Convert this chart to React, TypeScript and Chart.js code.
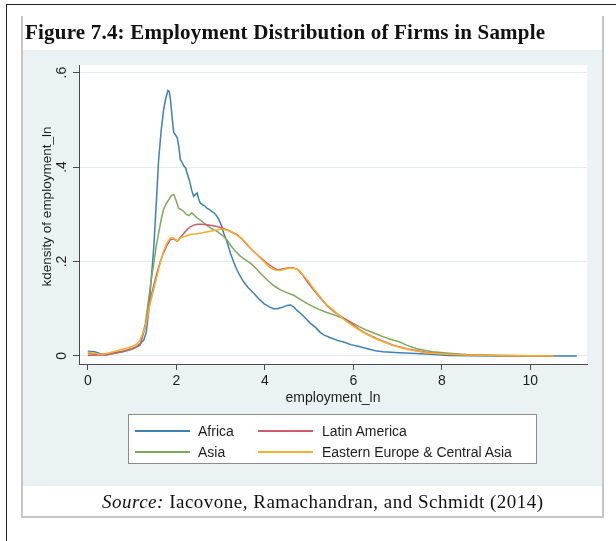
import React, { useEffect, useRef } from 'react';
import { Chart, registerables } from 'chart.js';
Chart.register(...registerables);

const titleText = 'Figure 7.4: Employment Distribution of Firms in Sample';
const xTitle = 'employment_ln';
const yTitle = 'kdensity of employment_ln';
const xTicks = [0, 2, 4, 6, 8, 10];
const yTicks = [0, 0.2, 0.4, 0.6];
const yTickLabels = ['0', '.2', '.4', '.6'];

const africaX = [0, 0.15, 0.3, 0.45, 0.6, 0.75, 0.9, 1.05, 1.18, 1.26, 1.32, 1.37, 1.43, 1.49, 1.55, 1.6, 1.66, 1.71, 1.76, 1.81, 1.84, 1.87, 1.91, 1.94, 1.98, 2.02, 2.06, 2.09, 2.13, 2.17, 2.21, 2.24, 2.3, 2.35, 2.39, 2.43, 2.47, 2.5, 2.54, 2.6, 2.65, 2.69, 2.75, 2.8, 2.85, 2.9, 2.96, 3.02, 3.07, 3.15, 3.22, 3.3, 3.37, 3.45, 3.52, 3.62, 3.75, 3.86, 3.98, 4.1, 4.2, 4.28, 4.4, 4.5, 4.58, 4.65, 4.72, 4.81, 4.92, 5.03, 5.15, 5.25, 5.34, 5.5, 5.64, 5.8, 5.94, 6.13, 6.3, 6.5, 6.67, 7.04, 7.4, 7.64, 8.17, 8.6, 9.2, 10, 11.05];
const africaY = [0.010, 0.009, 0.004, 0.004, 0.007, 0.009, 0.012, 0.016, 0.026, 0.033, 0.05, 0.09, 0.16, 0.23, 0.33, 0.416, 0.48, 0.52, 0.545, 0.562, 0.56, 0.54, 0.5, 0.473, 0.468, 0.462, 0.44, 0.416, 0.41, 0.402, 0.398, 0.388, 0.37, 0.35, 0.338, 0.342, 0.345, 0.334, 0.324, 0.32, 0.317, 0.313, 0.31, 0.306, 0.303, 0.298, 0.289, 0.276, 0.26, 0.24, 0.218, 0.198, 0.182, 0.168, 0.157, 0.145, 0.133, 0.121, 0.111, 0.104, 0.1, 0.1, 0.103, 0.107, 0.108, 0.104, 0.097, 0.09, 0.08, 0.069, 0.06, 0.05, 0.044, 0.038, 0.033, 0.029, 0.024, 0.02, 0.016, 0.011, 0.009, 0.007, 0.005, 0.004, 0.001, 0.0005, 0.0002, 0, 0];

const asiaX = [0, 0.2, 0.4, 0.6, 0.8, 1.0, 1.18, 1.3, 1.37, 1.43, 1.49, 1.55, 1.6, 1.66, 1.71, 1.77, 1.83, 1.89, 1.94, 1.99, 2.05, 2.11, 2.17, 2.22, 2.28, 2.35, 2.41, 2.47, 2.55, 2.62, 2.7, 2.77, 2.85, 2.92, 3.0, 3.07, 3.15, 3.22, 3.33, 3.45, 3.57, 3.68, 3.8, 3.9, 4.02, 4.13, 4.25, 4.35, 4.5, 4.66, 4.8, 4.96, 5.1, 5.26, 5.4, 5.56, 5.7, 5.86, 6.0, 6.13, 6.29, 6.5, 6.67, 6.85, 7.04, 7.2, 7.42, 7.6, 7.79, 8.17, 8.55, 9.3, 10.0, 10.5];
const asiaY = [0.005, 0.003, 0.002, 0.005, 0.009, 0.014, 0.023, 0.069, 0.118, 0.16, 0.196, 0.235, 0.26, 0.29, 0.31, 0.322, 0.331, 0.34, 0.342, 0.33, 0.313, 0.31, 0.306, 0.3, 0.297, 0.303, 0.298, 0.292, 0.287, 0.282, 0.276, 0.271, 0.267, 0.264, 0.258, 0.253, 0.245, 0.235, 0.222, 0.211, 0.203, 0.196, 0.185, 0.175, 0.164, 0.154, 0.146, 0.14, 0.134, 0.128, 0.12, 0.111, 0.104, 0.097, 0.092, 0.087, 0.082, 0.076, 0.069, 0.062, 0.055, 0.047, 0.041, 0.035, 0.03, 0.023, 0.016, 0.012, 0.009, 0.006, 0.003, 0.001, 0.0003, 0];

const latinX = [0, 0.2, 0.4, 0.6, 0.8, 1.0, 1.18, 1.3, 1.41, 1.49, 1.56, 1.63, 1.71, 1.78, 1.86, 1.94, 2.02, 2.1, 2.17, 2.25, 2.32, 2.4, 2.47, 2.58, 2.69, 2.8, 2.92, 3.03, 3.15, 3.26, 3.37, 3.48, 3.6, 3.72, 3.83, 3.94, 4.05, 4.16, 4.28, 4.4, 4.51, 4.62, 4.73, 4.85, 4.96, 5.1, 5.26, 5.4, 5.56, 5.7, 5.86, 6.0, 6.14, 6.3, 6.52, 6.7, 6.9, 7.1, 7.27, 7.45, 7.64, 8.02, 8.55, 9.2, 10.0, 10.5];
const latinY = [0.001, 0.002, 0.002, 0.006, 0.01, 0.016, 0.023, 0.062, 0.118, 0.15, 0.175, 0.198, 0.218, 0.233, 0.246, 0.248, 0.243, 0.252, 0.26, 0.268, 0.274, 0.277, 0.279, 0.279, 0.278, 0.276, 0.274, 0.271, 0.267, 0.262, 0.257, 0.248, 0.235, 0.224, 0.214, 0.205, 0.196, 0.189, 0.182, 0.184, 0.186, 0.187, 0.184, 0.172, 0.157, 0.14, 0.122, 0.107, 0.094, 0.085, 0.076, 0.066, 0.056, 0.047, 0.037, 0.03, 0.023, 0.018, 0.014, 0.011, 0.008, 0.004, 0.002, 0.001, 0.0003, 0];

const eecaX = [0, 0.15, 0.3, 0.5, 0.7, 0.85, 1.0, 1.1, 1.18, 1.3, 1.41, 1.49, 1.56, 1.63, 1.71, 1.78, 1.86, 1.94, 2.02, 2.1, 2.17, 2.25, 2.32, 2.43, 2.54, 2.65, 2.77, 2.88, 3.0, 3.1, 3.22, 3.33, 3.45, 3.57, 3.68, 3.8, 3.9, 4.02, 4.13, 4.24, 4.35, 4.47, 4.58, 4.68, 4.77, 4.86, 4.96, 5.1, 5.26, 5.4, 5.56, 5.7, 5.86, 6.0, 6.13, 6.3, 6.52, 6.7, 6.9, 7.1, 7.27, 7.45, 7.64, 8.02, 8.55, 9.2, 10.0, 10.53];
const eecaY = [0.008, 0.006, 0.003, 0.007, 0.012, 0.016, 0.02, 0.025, 0.033, 0.062, 0.111, 0.142, 0.168, 0.195, 0.221, 0.238, 0.25, 0.25, 0.243, 0.25, 0.253, 0.255, 0.257, 0.258, 0.26, 0.262, 0.264, 0.266, 0.269, 0.267, 0.264, 0.258, 0.25, 0.24, 0.228, 0.217, 0.207, 0.196, 0.186, 0.182, 0.181, 0.184, 0.186, 0.185, 0.182, 0.172, 0.161, 0.143, 0.124, 0.108, 0.096, 0.084, 0.072, 0.063, 0.055, 0.046, 0.036, 0.029, 0.022, 0.017, 0.013, 0.01, 0.007, 0.004, 0.002, 0.001, 0.0003, 0];

const seriesNames = ['Africa', 'Asia', 'Latin America', 'Eastern Europe & Central Asia'];
const seriesX = [africaX, asiaX, latinX, eecaX];
const seriesY = [africaY, asiaY, latinY, eecaY];
const seriesColors = ['#3f80b5', '#80a85a', '#cf5b70', '#f5b12c'];
// lower = drawn on top
const seriesOrder = [3, 2, 1, 0];
// legend layout order (row-major, 2 columns): Africa, Latin America / Asia, EECA
const legendOrder = [0, 2, 1, 3];

const SANS = '"Liberation Sans", Arial, Helvetica, sans-serif';
const SERIF = '"Liberation Serif", "Times New Roman", serif';
const PANEL = '#eaf2f3';
const AXIS = '#4a4a4a';

export default function App() {
  const ref = useRef<HTMLCanvasElement | null>(null);

  useEffect(() => {
    if (!ref.current) return;
    const plugin = {
      id: 'stataFrame',
      beforeDraw(chart: any) {
        const { ctx, chartArea: a } = chart;
        ctx.save();
        ctx.fillStyle = '#ffffff';
        ctx.fillRect(a.left, a.top, a.right - a.left, a.bottom - a.top);
        ctx.restore();
      },
      afterDraw(chart: any) {
        const { ctx, chartArea: a } = chart;
        const ys = chart.scales.y;
        ctx.save();
        ctx.fillStyle = '#1e1e1e';
        ctx.font = `14px ${SANS}`;
        ctx.textAlign = 'center';
        ctx.textBaseline = 'middle';
        yTicks.forEach((v, i) => {
          const py = ys.getPixelForValue(v);
          ctx.save();
          ctx.translate(a.left - 17, py);
          ctx.rotate(-Math.PI / 2);
          ctx.fillText(yTickLabels[i], 0, 0);
          ctx.restore();
        });
        ctx.font = `13.5px ${SANS}`;
        ctx.save();
        ctx.translate(a.left - 32, (a.top + a.bottom) / 2 - 8);
        ctx.rotate(-Math.PI / 2);
        ctx.fillText(yTitle, 0, 0);
        ctx.restore();
        ctx.restore();
      },
    };

    const chart = new Chart(ref.current, {
      type: 'line',
      data: {
        datasets: seriesNames.map((name, i) => ({
          label: name,
          data: seriesX[i].map((x, j) => ({ x, y: seriesY[i][j] })),
          borderColor: seriesColors[i],
          backgroundColor: seriesColors[i],
          borderWidth: 1.5,
          pointRadius: 0,
          tension: 0,
          fill: false,
          order: seriesOrder[i],
        })),
      },
      options: {
        animation: false,
        responsive: false,
        maintainAspectRatio: false,
        layout: { padding: { left: 0, right: 15, top: 15, bottom: 0 } },
        plugins: { legend: { display: false }, tooltip: { enabled: false } },
        scales: {
          x: {
            type: 'linear',
            min: -0.2,
            max: 11.28,
            afterBuildTicks: (s: any) => { s.ticks = xTicks.map((v) => ({ value: v })); },
            afterFit: (s: any) => { s.height = 122; },
            grid: { drawOnChartArea: false, drawTicks: true, tickLength: 6, color: AXIS, tickColor: AXIS },
            border: { display: true, color: AXIS, width: 1 },
            ticks: {
              padding: 3,
              color: '#1e1e1e',
              font: { family: SANS, size: 14 },
              maxRotation: 0,
              autoSkip: false,
              callback: (v: any) => String(v),
            },
            title: {
              display: true,
              text: xTitle,
              color: '#1e1e1e',
              font: { family: SANS, size: 14 },
              padding: { top: 0, bottom: 79 },
            },
          },
          y: {
            type: 'linear',
            min: -0.017,
            max: 0.616,
            afterBuildTicks: (s: any) => { s.ticks = yTicks.map((v) => ({ value: v })); },
            afterFit: (s: any) => { s.width = 57; },
            grid: { drawOnChartArea: true, drawTicks: true, tickLength: 6, color: '#e3ecef', tickColor: AXIS },
            border: { display: true, color: AXIS, width: 1 },
            ticks: { display: false },
          },
        },
      },
      plugins: [plugin],
    } as any);
    return () => chart.destroy();
  }, []);

  return (
    <div style={{ position: 'absolute', left: 0, top: 0, width: 616, height: 541, background: '#fff', overflow: 'hidden' }}>
      <div style={{ position: 'absolute', left: 6, top: 4, width: 640, height: 600, borderLeft: '1.5px solid #222', borderTop: '1.5px solid #222' }} />
      <div style={{ position: 'absolute', left: 22, top: 50, width: 580, height: 436, background: PANEL }}>
        <canvas ref={ref} width={580} height={436} style={{ display: 'block', width: 580, height: 436 }} />
      </div>
      <div style={{ position: 'absolute', left: 21, top: 16, width: 579, height: 500, borderLeft: '2px solid #c6c6c6', borderRight: '2px solid #c6c6c6', borderBottom: '2px solid #c6c6c6' }} />
      <div style={{ position: 'absolute', left: 25, top: 22, fontFamily: SERIF, fontWeight: 'bold', fontSize: 21, letterSpacing: '0.2px', lineHeight: '21px', color: '#111', whiteSpace: 'nowrap' }}>
        {titleText}
      </div>
      <div style={{ position: 'absolute', left: 128, top: 414, width: 407, height: 48, border: '1px solid #8c8c8c', background: '#fff' }}>
        {legendOrder.map((si, k) => {
          const row = Math.floor(k / 2);
          const col = k % 2;
          const cy = row === 0 ? 16 : 37;
          const lx = col === 0 ? 6 : 129;
          const tx = col === 0 ? 69 : 193;
          return (
            <React.Fragment key={si}>
              <div style={{ position: 'absolute', left: lx, top: cy - 1, width: 55, height: 1.5, background: seriesColors[si] }} />
              <div style={{ position: 'absolute', left: tx, top: cy - 9, fontFamily: SANS, fontSize: 14, lineHeight: '18px', color: '#1e1e1e', whiteSpace: 'nowrap' }}>
                {seriesNames[si]}
              </div>
            </React.Fragment>
          );
        })}
      </div>
      <div style={{ position: 'absolute', left: 102, top: 492, fontFamily: SERIF, fontSize: 19, letterSpacing: '0.5px', lineHeight: '19px', color: '#111', whiteSpace: 'nowrap' }}>
        <i>Source:</i> Iacovone, Ramachandran, and Schmidt (2014)
      </div>
    </div>
  );
}
